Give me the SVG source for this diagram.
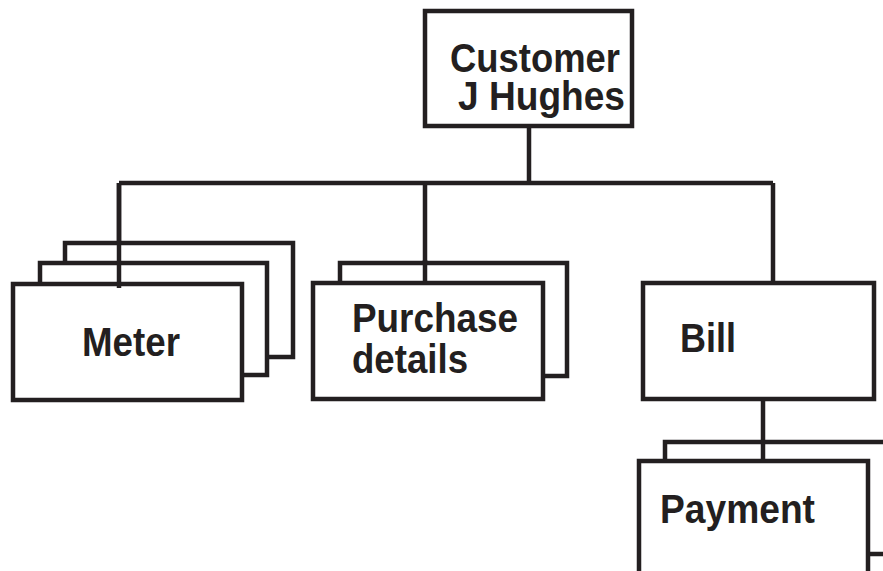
<svg xmlns="http://www.w3.org/2000/svg" width="883" height="571" viewBox="0 0 883 571">
<style>
.box{fill:#fff;stroke:#231f20;stroke-width:4.5}
.ln{fill:none;stroke:#231f20;stroke-width:4.5}
.t{font-family:"Liberation Sans",Arial,sans-serif;font-weight:bold;font-size:40px;fill:#231f20}
</style>
<rect width="883" height="571" fill="#fff"/>
<g id="connectors">
<path class="ln" d="M529 126 V183 M119 183 H773 M119 183 V288 M425 183 V283 M773 183 V283 M763 399 V461"/>
</g>
<g id="customer">
<rect class="box" x="425" y="11" width="207" height="115"/>
<text class="t" x="450" y="72" textLength="170" lengthAdjust="spacingAndGlyphs">Customer</text>
<text class="t" x="458" y="110" textLength="167" lengthAdjust="spacingAndGlyphs">J Hughes</text>
</g>
<g id="meter">
<rect class="box" x="65" y="243" width="228" height="114"/>
<rect class="box" x="40" y="263" width="227" height="112"/>
<rect class="box" x="13" y="284" width="229" height="116"/>
<path class="ln" d="M119 183 V288"/>
<text class="t" x="82" y="356" textLength="98" lengthAdjust="spacingAndGlyphs">Meter</text>
</g>
<g id="purchase">
<rect class="box" x="340" y="263" width="227" height="113"/>
<rect class="box" x="313" y="283" width="230" height="116"/>
<path class="ln" d="M425 260 V283"/>
<text class="t" x="352" y="332" textLength="166" lengthAdjust="spacingAndGlyphs">Purchase</text>
<text class="t" x="352" y="373" textLength="116" lengthAdjust="spacingAndGlyphs">details</text>
</g>
<g id="bill">
<rect class="box" x="643" y="283" width="231" height="116"/>
<text class="t" x="680" y="352" textLength="56" lengthAdjust="spacingAndGlyphs">Bill</text>
</g>
<g id="payment">
<rect class="box" x="665" y="442" width="240" height="112"/>
<rect class="box" x="639" y="461" width="229" height="130"/>
<path class="ln" d="M763 440 V461"/>
<text class="t" x="660" y="523" textLength="155" lengthAdjust="spacingAndGlyphs">Payment</text>
</g>
</svg>
